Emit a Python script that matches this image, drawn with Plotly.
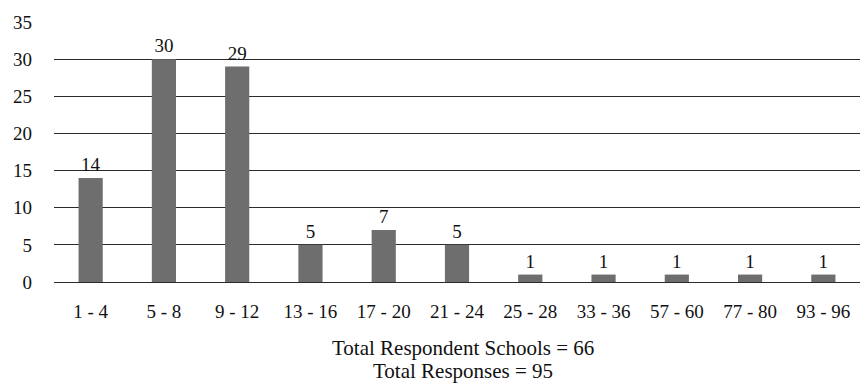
import plotly.graph_objects as go

# Distribution of respondents by range
ranges = ["1 - 4", "5 - 8", "9 - 12", "13 - 16", "17 - 20", "21 - 24",
          "25 - 28", "33 - 36", "57 - 60", "77 - 80", "93 - 96"]
counts = [14, 30, 29, 5, 7, 5, 1, 1, 1, 1, 1]
y_ticks = [0, 5, 10, 15, 20, 25, 30, 35]
footer_lines = ["Total Respondent Schools = 66", "Total Responses = 95"]

serif = "Liberation Serif"
fsize = 19
footer_size = 21

fig = go.Figure(
    go.Bar(
        x=ranges,
        y=counts,
        marker=dict(color="#6e6e6e", line=dict(width=0)),
        text=counts,
        textposition="outside",
        textfont=dict(family=serif, size=fsize, color="#111111"),
        cliponaxis=False,
    )
)

fig.update_layout(
    width=862,
    height=384,
    margin=dict(l=54, r=2, t=22, b=102),
    paper_bgcolor="white",
    plot_bgcolor="white",
    bargap=0.67,
    showlegend=False,
    font=dict(family=serif, size=fsize, color="#111111"),
)

fig.update_yaxes(
    range=[0, 35],
    tickvals=y_ticks,
    showgrid=True,
    gridcolor="#2a2a2a",
    gridwidth=1,
    zeroline=True,
    zerolinecolor="#2a2a2a",
    zerolinewidth=1,
    ticks="",
    ticklabelstandoff=21,
    tickfont=dict(family=serif, size=fsize),
)

fig.update_xaxes(
    showgrid=False,
    ticks="",
    ticklabelstandoff=16,
    tickfont=dict(family=serif, size=fsize),
)

for i, line in enumerate(footer_lines):
    fig.add_annotation(
        text=line,
        xref="paper",
        yref="paper",
        x=0.507,
        y=-0.254 - i * 0.088,
        xanchor="center",
        yanchor="middle",
        showarrow=False,
        font=dict(family=serif, size=footer_size, color="#111111"),
    )

fig.write_html("out.html")
